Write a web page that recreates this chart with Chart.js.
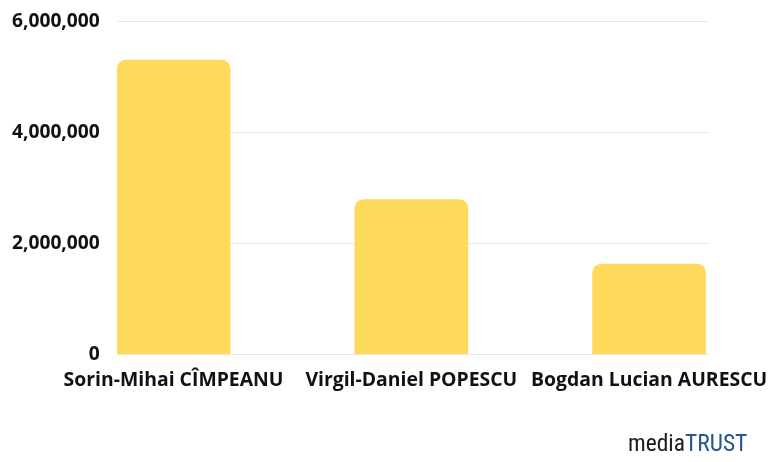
<!DOCTYPE html>
<html>
<head>
<meta charset="utf-8">
<script src="https://cdn.jsdelivr.net/npm/chart.js@4/dist/chart.umd.min.js"></script>
<style>
  html, body { margin: 0; padding: 0; background: #ffffff; overflow: hidden; }
  #wrap { position: relative; width: 771px; height: 462px; overflow: hidden; }
  #c { position: absolute; left: 0; top: -7px; }
  #logo { position: absolute; left: 628px; top: 428px; font-family: 'Liberation Sans Narrow', 'Roboto Condensed', 'DejaVu Sans Condensed', sans-serif; font-size: 23.5px; line-height: 30px; letter-spacing: 0; white-space: nowrap; }
  #logo .m { color: #1a1a1a; }
  #logo .t { color: #24578a; }
</style>
</head>
<body>
<div id="wrap">
  <canvas id="c" width="771" height="469"></canvas>
  <div id="logo"><span class="m">media</span><span class="t">TRUST</span></div>
</div>
<script>
const categories = ["Sorin-Mihai CÎMPEANU", "Virgil-Daniel POPESCU", "Bogdan Lucian AURESCU"];
const values = [5310000, 2800000, 1640000];
const yTicks = [0, 2000000, 4000000, 6000000];

const points = values.map((v, i) => ({ x: i, y: v }));

new Chart(document.getElementById('c'), {
  type: 'bar',
  data: {
    datasets: [{
      data: points,
      backgroundColor: '#FDDA5C',
      borderRadius: { topLeft: 9, topRight: 9, bottomLeft: 0, bottomRight: 0 },
      borderSkipped: false,
      barPercentage: 0.478,
      categoryPercentage: 1
    }]
  },
  options: {
    responsive: false,
    animation: false,
    layout: { padding: { left: -5, right: 62, top: 6, bottom: 64 } },
    plugins: { legend: { display: false }, tooltip: { enabled: false } },
    scales: {
      x: {
        type: 'linear',
        offset: false,
        min: -0.239,
        max: 2.252,
        grid: { display: false, offset: false },
        border: { display: false },
        afterBuildTicks: (scale) => { scale.ticks = categories.map((c, i) => ({ value: i })); },
        afterFit: (scale) => { scale.paddingLeft = 0; scale.paddingRight = 0; },
        ticks: {
          autoSkip: false,
          maxRotation: 0,
          padding: 6,
          color: '#111111',
          font: { family: "'Open Sans', sans-serif", size: 19.4, weight: 'bold' },
          callback: (v) => categories[v]
        }
      },
      y: {
        min: 0,
        max: 6000000,
        afterBuildTicks: (scale) => { scale.ticks = yTicks.map(v => ({ value: v })); },
        grid: { color: '#e9e9e9', lineWidth: 1, drawTicks: false },
        border: { display: false },
        ticks: {
          padding: 17,
          color: '#111111',
          font: { family: "'Open Sans', sans-serif", size: 19.2, weight: 'bold' },
          callback: (v) => v.toLocaleString('en-US')
        }
      }
    }
  }
});
</script>
</body>
</html>
